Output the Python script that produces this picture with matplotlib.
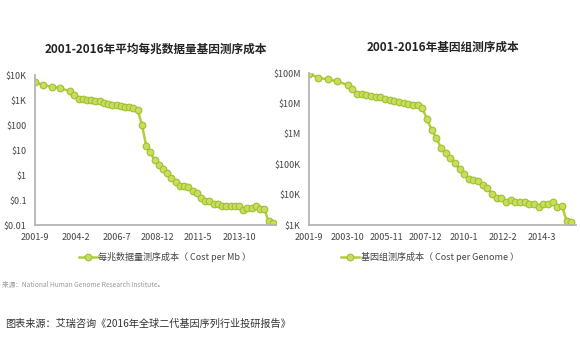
import matplotlib
matplotlib.use("Agg")
import matplotlib.pyplot as plt
import pandas as pd

plt.rcParams['font.family'] = ['Noto Sans CJK SC', 'DejaVu Sans']

# ---------------- data ----------------
dates = ["2001-09", "2002-03", "2002-09", "2003-03", "2003-10",
         "2004-01", "2004-04", "2004-07", "2004-10",
         "2005-01", "2005-04", "2005-07", "2005-10",
         "2006-01", "2006-04", "2006-07", "2006-10",
         "2007-01", "2007-04", "2007-07", "2007-10",
         "2008-01", "2008-04", "2008-07", "2008-10",
         "2009-01", "2009-04", "2009-07", "2009-10",
         "2010-01", "2010-04", "2010-07", "2010-10",
         "2011-01", "2011-04", "2011-07", "2011-10",
         "2012-01", "2012-04", "2012-07", "2012-10",
         "2013-01", "2013-04", "2013-07", "2013-10",
         "2014-01", "2014-04", "2014-07", "2014-10",
         "2015-01", "2015-04", "2015-07", "2015-10"]

cost_per_mb = [5292.39, 3898.64, 3413.80, 2986.20, 2230.98,
               1598.91, 1135.70, 1107.46, 1028.85,
               974.16, 897.76, 898.90, 766.73,
               699.20, 651.81, 636.41, 581.92,
               522.71, 502.61, 495.96, 397.09,
               102.13, 15.03, 8.36, 3.81,
               2.59, 1.72, 1.20, 0.78,
               0.52, 0.35, 0.35, 0.32,
               0.23, 0.19, 0.12, 0.09,
               0.09, 0.07, 0.07, 0.06,
               0.06, 0.06, 0.055, 0.055,
               0.04, 0.05, 0.05, 0.058,
               0.043, 0.045, 0.014, 0.012]

cost_per_genome = [95263072, 70175437, 61448422, 53751684, 40157554,
                   28780376, 20442576, 19934346, 18519312,
                   17534970, 16159699, 16180224, 13801124,
                   12585659, 11732535, 11455315, 10474556,
                   9408739, 9047003, 8927342, 7147571,
                   3063820, 1352982, 752080, 342502,
                   232735, 154714, 108065, 70333,
                   46774, 31512, 31125, 29092,
                   20963, 16712, 10497, 7743,
                   7666, 5901, 6618, 5671,
                   5826, 5550, 5096, 5096,
                   4008, 4920, 4905, 5731,
                   3970, 4211, 1363, 1245]

left_xticks = ["2001-9", "2004-2", "2006-7", "2008-12", "2011-5", "2013-10"]
right_xticks = ["2001-9", "2003-10", "2005-11", "2007-12", "2010-1", "2012-2", "2014-3"]

left_yticks = [0.01, 0.1, 1, 10, 100, 1000, 10000]
left_ylabels = [r"\$0.01", r"\$0.1", r"\$1", r"\$10", r"\$100", r"\$1K", r"\$10K"]
right_yticks = [1e3, 1e4, 1e5, 1e6, 1e7, 1e8]
right_ylabels = [r"\$1K", r"\$10K", r"\$100K", r"\$1M", r"\$10M", r"\$100M"]

left_title = "2001-2016年平均每兆数据量基因测序成本"
right_title = "2001-2016年基因组测序成本"
left_legend = "每兆数据量测序成本（ Cost per Mb ）"
right_legend = "基因组测序成本（ Cost per Genome ）"
source_note = "来源：National Human Genome Research Institute。"
footer = "图表来源：艾瑞咨询《2016年全球二代基因序列行业投研报告》"

# ---------------- plot ----------------
x = pd.to_datetime(dates, format="%Y-%m")
W, H = 580, 353
fig = plt.figure(figsize=(W / 100, H / 100), dpi=100)

line_c = "#b2cf3a"
face_c = "#c6de5c"
edge_c = "#a2bf30"
spine_c = "#b5b5b5"
tick_c = "#444444"


def setup(ax, y, xt, yt, yl, ylim, xlim, title, leg, leg_x):
    ax.plot(x, y, color=line_c, lw=1.8, marker="o", ms=4.8,
            mfc=face_c, mec=edge_c, mew=0.8, label=leg)
    ax.set_yscale("log")
    ax.set_ylim(*ylim)
    ax.set_xlim(pd.Timestamp(xlim[0]), pd.Timestamp(xlim[1]))
    ax.set_yticks(yt)
    ax.set_yticklabels(yl)
    ax.yaxis.set_minor_locator(matplotlib.ticker.NullLocator())
    xt_d = pd.to_datetime(xt, format="%Y-%m")
    ax.set_xticks(xt_d)
    ax.set_xticklabels(xt)
    ax.xaxis.set_minor_locator(matplotlib.ticker.NullLocator())
    ax.tick_params(length=0, labelsize=6.5, colors=tick_c, pad=6)
    for s in ["top", "right"]:
        ax.spines[s].set_visible(False)
    for s in ["left", "bottom"]:
        ax.spines[s].set_color(spine_c)
        ax.spines[s].set_linewidth(1.3)
    ax.set_title(title, fontsize=8.4, fontweight="bold", color="#222222", pad=16)
    fig.legend(handles=ax.get_lines(), loc="center", bbox_to_anchor=(leg_x, 1 - 257 / H),
               frameon=False, fontsize=6.5, handlelength=2.0, handletextpad=0.2,
               labelcolor="#444444")


ax1 = fig.add_axes([35 / W, 1 - 225 / H, 241 / W, 150 / H])
setup(ax1, cost_per_mb, left_xticks, left_yticks, left_ylabels, (0.01, 10000),
      ("2001-09-01", "2015-12-10"), left_title, left_legend, 165 / W)

ax2 = fig.add_axes([309 / W, 1 - 225 / H, 267 / W, 152 / H])
setup(ax2, cost_per_genome, right_xticks, right_yticks, right_ylabels, (1e3, 1e8),
      ("2001-09-01", "2016-01-01"), right_title, right_legend, 430 / W)

fig.text(2 / W, 1 - 285 / H, source_note, fontsize=4.8, color="#999999", va="center")
fig.text(5 / W, 1 - 324 / H, footer, fontsize=7.3, color="#333333", va="center")

fig.savefig("out.png", dpi=100)
